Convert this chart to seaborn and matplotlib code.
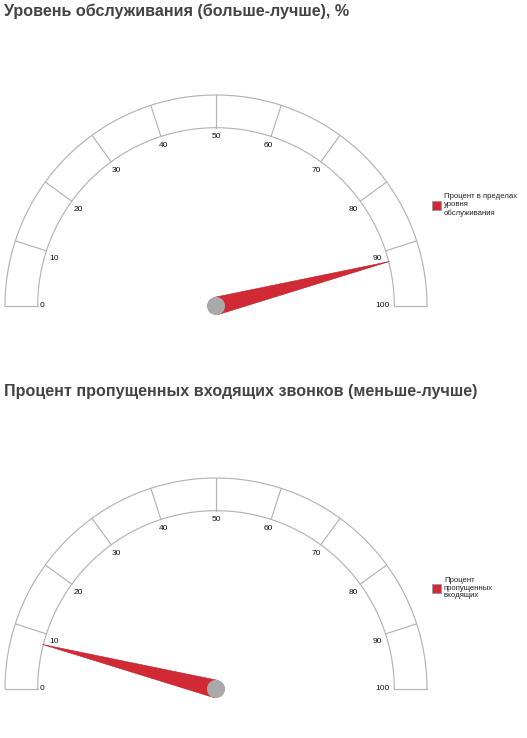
import numpy as np
import pandas as pd
import seaborn as sns
import matplotlib.pyplot as plt
from matplotlib.patches import Polygon, Circle, Rectangle

# --- data ---
titles = ['Уровень обслуживания (больше-лучше), %',
          'Процент пропущенных входящих звонков (меньше-лучше)']
values = [92, 8]
legend_labels = ['Процент в пределах\nуровня\nобслуживания',
                 'Процент\nпропущенных\nвходящих']
tick_values = [0, 10, 20, 30, 40, 50, 60, 70, 80, 90, 100]
tick_labels = ['0', '10', '20', '30', '40', '50', '60', '70', '80', '90', '100']

sns.set_theme(style='white')
plt.rcParams['font.family'] = ['Liberation Sans', 'DejaVu Sans']

W, H = 527, 738
fig = plt.figure(figsize=(W / 100, H / 100), dpi=100)
fig.patch.set_facecolor('white')

R_OUT = 1.0
R_IN = 0.845
PX = 211.0  # pixels per unit radius
line_col = '#b4b4b4'
needle_col = '#d12a34'
hub_col = '#a9a9a9'
title_col = '#444444'


def ang(v):
    return np.pi * (1 - v / 100.0)


def draw_gauge(cy_px, value, title, leg_label, title_y):
    cx_px = 216
    x0, x1 = -1.02, 1.02
    y0, y1 = -0.1, 1.05
    left = (cx_px + x0 * PX) / W
    bottom = 1 - (cy_px - y0 * PX) / H
    ax = fig.add_axes([left, bottom, (x1 - x0) * PX / W, (y1 - y0) * PX / H])
    ax.set_xlim(x0, x1)
    ax.set_ylim(y0, y1)
    ax.set_aspect('equal')
    ax.axis('off')

    # outline of the band
    t = np.linspace(0, np.pi, 300)
    arcs = pd.DataFrame({
        'x': np.concatenate([R_OUT * np.cos(t), R_IN * np.cos(t)]),
        'y': np.concatenate([R_OUT * np.sin(t), R_IN * np.sin(t)]),
        'ring': ['out'] * len(t) + ['in'] * len(t),
    })
    sns.lineplot(data=arcs, x='x', y='y', units='ring', estimator=None, sort=False,
                 color=line_col, lw=0.85, ax=ax, legend=False)

    for v, lab in zip(tick_values, tick_labels):
        a = ang(v)
        ax.plot([R_IN * np.cos(a), R_OUT * np.cos(a)], [R_IN * np.sin(a), R_OUT * np.sin(a)],
                color=line_col, lw=0.85)
        r = 0.805
        if v == 0:
            r = 0.825
        if v == 100:
            r = 0.79
        dy = 0.0
        if 0 < v < 100:
            dy = -0.025 * (1 - np.sin(a)) - 0.004
        ax.text(r * np.cos(a), r * np.sin(a) + dy, lab, fontsize=6.0, color='#111111',
                ha='center', va='center')

    # needle
    a = ang(value)
    tip = 0.85
    hw = 0.042
    d = np.array([np.cos(a), np.sin(a)])
    n = np.array([-np.sin(a), np.cos(a)])
    pts = [tip * d, hw * n, -hw * n]
    ax.add_patch(Polygon(pts, closed=True, facecolor=needle_col, edgecolor='#b8222c',
                         lw=0.4, zorder=3))
    ax.add_patch(Circle((0, 0), 0.043, facecolor=hub_col, edgecolor='none', zorder=4))

    # title
    fig.text(4 / W, 1 - title_y / H, title, fontsize=11.65, fontweight='bold',
             color=title_col, ha='left', va='center')

    # legend
    leg_y = cy_px - 101
    fig.patches.append(Rectangle((432 / W, 1 - (leg_y + 5) / H), 9 / W, 9 / H,
                                 transform=fig.transFigure, facecolor=needle_col,
                                 edgecolor='#999999', lw=0.6))
    fig.text(444 / W, 1 - leg_y / H, leg_label, fontsize=5.6, color='#222222',
             ha='left', va='center', linespacing=1.15)


draw_gauge(306, values[0], titles[0], legend_labels[0], 11)
draw_gauge(689, values[1], titles[1], legend_labels[1], 391)

fig.savefig('out.png', dpi=100, facecolor='white')
